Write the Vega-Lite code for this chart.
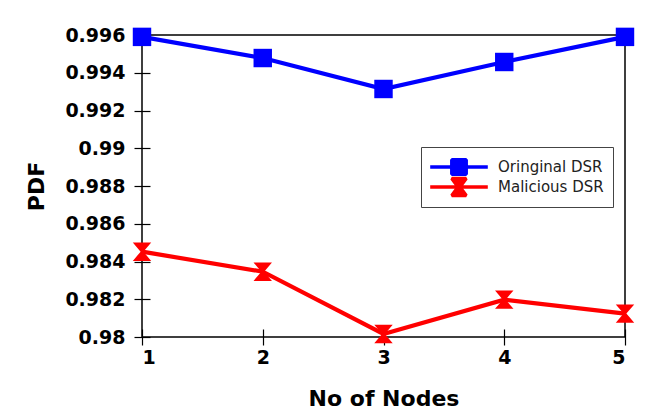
{
  "$schema": "https://vega.github.io/schema/vega-lite/v6.json",
  "width": 483,
  "height": 302,
  "autosize": {"type": "none"},
  "padding": {"left": 142, "top": 35, "right": 25, "bottom": 79},
  "background": "white",
  "config": {
    "font": "DejaVu Sans",
    "view": {"stroke": "black", "strokeWidth": 1.5},
    "axis": {"domain": false, "grid": false, "ticks": true, "tickColor": "black", "tickWidth": 1.2, "labelColor": "black", "titleColor": "black", "labelFont": "DejaVu Sans", "titleFont": "DejaVu Sans", "labelFontWeight": "bold", "titleFontWeight": "bold"}
  },
  "data": {
    "values": [
      {"nodes": 1, "pdf": 0.9959, "series": "Oringinal DSR"},
      {"nodes": 2, "pdf": 0.99478, "series": "Oringinal DSR"},
      {"nodes": 3, "pdf": 0.99314, "series": "Oringinal DSR"},
      {"nodes": 4, "pdf": 0.99457, "series": "Oringinal DSR"},
      {"nodes": 5, "pdf": 0.9959, "series": "Oringinal DSR"},
      {"nodes": 1, "pdf": 0.98452, "series": "Malicious DSR"},
      {"nodes": 2, "pdf": 0.98346, "series": "Malicious DSR"},
      {"nodes": 3, "pdf": 0.98016, "series": "Malicious DSR"},
      {"nodes": 4, "pdf": 0.98198, "series": "Malicious DSR"},
      {"nodes": 5, "pdf": 0.98124, "series": "Malicious DSR"}
    ]
  },
  "encoding": {
    "x": {
      "field": "nodes", "type": "quantitative",
      "scale": {"domain": [1, 5], "nice": false, "zero": false},
      "axis": {"values": [1, 2, 3, 4, 5], "format": "d", "title": "No of Nodes", "offset": -8, "tickSize": 16, "labelPadding": 3, "labelFontSize": 19, "titleFontSize": 22, "titlePadding": 21}
    },
    "y": {
      "field": "pdf", "type": "quantitative",
      "scale": {"domain": [0.98, 0.996], "nice": false, "zero": false},
      "axis": {"values": [0.98, 0.982, 0.984, 0.986, 0.988, 0.99, 0.992, 0.994, 0.996], "format": ".3~f", "title": "PDF", "offset": -8, "tickSize": 16, "labelPadding": 9, "labelFontSize": 19, "titleFontSize": 22, "titlePadding": 16}
    },
    "color": {
      "field": "series", "type": "nominal",
      "scale": {"domain": ["Oringinal DSR", "Malicious DSR"], "range": ["#0000ff", "#ff0000"]},
      "legend": {
        "title": null, "orient": "none", "legendX": 279, "legendY": 112,
        "strokeColor": "#444444", "padding": 9, "fillColor": "white",
        "symbolSize": 324, "symbolOffset": 18, "labelFontSize": 15, "labelFont": "DejaVu Sans", "labelColor": "#222222", "labelOffset": 28, "rowPadding": 0,
        "encode": {
          "symbols": {
            "update": {
              "shape": {"signal": "datum.value === 'Oringinal DSR' ? 'M-3.2,0L3.2,0M-0.8,-0.8L0.8,-0.8L0.8,0.8L-0.8,0.8Z' : 'M-3.2,0L3.2,0M-0.8,-0.95L0.8,-0.95L0.1,0L0.8,0.95L-0.8,0.95L-0.1,0Z'"},
              "fill": {"scale": "color", "field": "value"},
              "stroke": {"scale": "color", "field": "value"},
              "strokeWidth": {"value": 3.5},
              "strokeJoin": {"value": "bevel"},
              "opacity": {"value": 1}
            }
          }
        }
      }
    }
  },
  "layer": [
    {
      "mark": {"type": "line", "strokeWidth": 4.2, "clip": false}
    },
    {
      "mark": {"type": "point", "filled": true, "opacity": 1, "size": 340, "clip": false},
      "encoding": {
        "shape": {
          "condition": {"test": "datum.series === 'Malicious DSR'", "value": "M-1,-1L1,-1L0.15,0L1,1L-1,1L-0.15,0Z"},
          "value": "square"
        }
      }
    }
  ]
}
